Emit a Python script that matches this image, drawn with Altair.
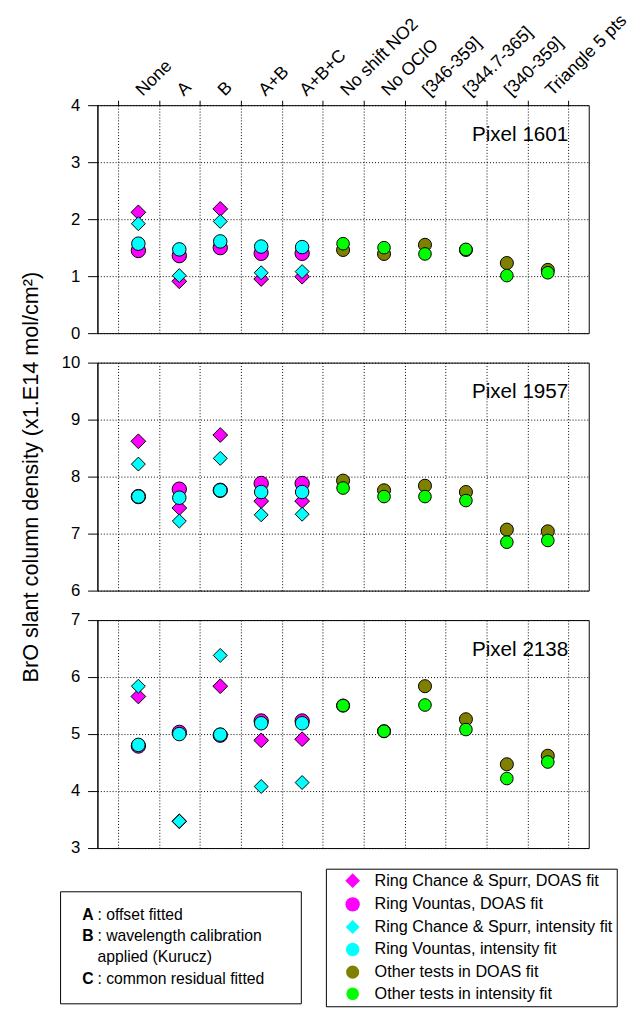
import altair as alt
import pandas as pd

# ---------------- data ----------------
categories = ["None", "A", "B", "A+B", "A+B+C", "No shift NO2", "No OClO",
              "[346-359]", "[344.7-365]", "[340-359]", "Triangle 5 pts"]
ring_positions = [1, 2, 3, 4, 5]
test_positions = [6, 7, 8, 9, 10, 11]
grid_positions = [0.5, 1.5, 2.5, 3.5, 4.5, 5.5, 6.5, 7.5, 8.5, 9.5, 10.5, 11.5]

pixels = ["Pixel 1601", "Pixel 1957", "Pixel 2138"]
y_domains = [[0, 4], [6, 10], [3, 7]]
y_ticks = [[0, 1, 2, 3, 4], [6, 7, 8, 9, 10], [3, 4, 5, 6, 7]]
y_title = "BrO slant column density (x1.E14 mol/cm\u00b2)"

series_names = ["Ring Chance & Spurr, DOAS fit",
                "Ring Vountas, DOAS fit",
                "Ring Chance & Spurr, intensity fit",
                "Ring Vountas, intensity fit",
                "Other tests in DOAS fit",
                "Other tests in intensity fit"]
series_fill = ["#ff00ff", "#ff00ff", "#00ffff", "#00ffff", "#808000", "#00ff00"]
series_shape = ["diamond", "circle", "diamond", "circle", "circle", "circle"]
series_size = [225, 165, 225, 165, 165, 165]

# Ring tests (categories None .. A+B+C)
chance_doas = {"Pixel 1601": [2.12, 0.91, 2.18, 0.95, 0.99],
               "Pixel 1957": [8.62, 7.45, 8.73, 7.57, 7.57],
               "Pixel 2138": [5.66, 3.47, 5.84, 4.89, 4.91]}
vountas_doas = {"Pixel 1601": [1.45, 1.36, 1.50, 1.40, 1.40],
                "Pixel 1957": [7.65, 7.78, 7.76, 7.88, 7.88],
                "Pixel 2138": [4.79, 5.03, 4.98, 5.23, 5.23]}
chance_int = {"Pixel 1601": [1.92, 1.01, 1.96, 1.06, 1.08],
              "Pixel 1957": [8.22, 7.22, 8.32, 7.33, 7.34],
              "Pixel 2138": [5.84, 3.47, 6.38, 4.08, 4.15]}
vountas_int = {"Pixel 1601": [1.57, 1.47, 1.61, 1.52, 1.51],
               "Pixel 1957": [7.65, 7.63, 7.76, 7.73, 7.73],
               "Pixel 2138": [4.81, 5.00, 4.99, 5.19, 5.19]}
# Other tests (categories No shift NO2 .. Triangle 5 pts)
other_doas = {"Pixel 1601": [1.46, 1.39, 1.55, 1.46, 1.23, 1.11],
              "Pixel 1957": [7.93, 7.76, 7.84, 7.73, 7.07, 7.04],
              "Pixel 2138": [5.50, 5.05, 5.84, 5.26, 4.47, 4.62]}
other_int = {"Pixel 1601": [1.57, 1.50, 1.39, 1.47, 1.01, 1.06],
             "Pixel 1957": [7.80, 7.65, 7.65, 7.58, 6.85, 6.88],
             "Pixel 2138": [5.50, 5.05, 5.51, 5.08, 4.22, 4.51]}

note_letters = ["A", "B", "\u00a0", "C"]
note_texts = [": offset fitted", ": wavelength calibration",
              "\u00a0\u00a0\u00a0applied (Kurucz)", ": common residual fitted"]

# ---------------- table ----------------
series_values = [chance_doas, vountas_doas, chance_int, vountas_int, other_doas, other_int]
rows = []
for k, (name, src) in enumerate(zip(series_names, series_values)):
    positions = ring_positions if k < 4 else test_positions
    for p in pixels:
        for xpos, v in zip(positions, src[p]):
            rows.append({"pixel": p, "series": name, "order": k, "xpos": xpos, "value": v})
df = pd.DataFrame(rows)
notes_df = pd.DataFrame({"letter": note_letters, "note": note_texts})

FONT = "Liberation Sans"
cat_positions = ring_positions + test_positions
label_positions = sorted(grid_positions + cat_positions)
label_expr = ""
for pos, name in zip(cat_positions, categories):
    label_expr += "datum.value == %s ? '%s' : " % (pos, name)
label_expr += "''"
half_test = "datum.value % 1 == 0"


def x_axis(top):
    if top:
        return alt.Axis(
            orient="top", values=label_positions, title=None, domain=False,
            grid=True, gridColor="black", gridDash=[1, 2], gridWidth=1,
            gridOpacity={"condition": {"test": half_test, "value": 0}, "value": 1},
            ticks=True, tickSize=5, tickColor="black",
            tickOpacity={"condition": {"test": half_test, "value": 0}, "value": 1},
            labels=True, labelExpr=label_expr,
            labelAngle=315, labelAlign="left", labelBaseline="alphabetic",
            labelPadding=4, labelOffset=4, labelFontSize=18, labelFont=FONT,
            labelColor="black", labelOverlap=False, labelFlush=False, labelLimit=300,
        )
    return alt.Axis(
        orient="top", values=grid_positions, title=None, domain=False,
        grid=True, gridColor="black", gridDash=[1, 2], gridWidth=1, gridOpacity=1,
        ticks=False, labels=False,
    )


def y_axis(i):
    kw = dict(values=y_ticks[i], format="d", grid=True, gridColor="black", gridDash=[1, 2],
              gridOpacity=1, tickSize=10, tickColor="black", domainColor="black",
              labelPadding=8, labelFontSize=17, labelFont=FONT, labelColor="black",
              minExtent=40, maxExtent=40)
    if i == 1:
        kw.update(title=y_title, titleFontSize=22, titleFont=FONT,
                  titleFontWeight="normal", titleColor="black", titlePadding=16)
    else:
        kw.update(title=None)
    return alt.Axis(**kw)


def panel(i):
    pix = pixels[i]
    lo, hi = y_domains[i]
    last = i == 2
    if last:
        leg = alt.Legend(orient="none", legendX=232.5, legendY=253, title=None,
                         strokeColor="black", fillColor="white", padding=4,
                         symbolOffset=15, labelOffset=14, rowPadding=4,
                         labelFontSize=16.5, labelFont=FONT, labelColor="black",
                         labelLimit=400, symbolStrokeColor="black", symbolStrokeWidth=1)
    else:
        leg = None
    xscale = alt.Scale(domain=[0, 12], nice=False, zero=False)
    yscale = alt.Scale(domain=[lo, hi], nice=False, zero=False)
    xax = x_axis(i == 0)
    yax = y_axis(i)
    pts = alt.Chart(df[df["pixel"] == pix]).mark_point(
        filled=True, stroke="black", strokeWidth=1, opacity=1
    ).encode(
        x=alt.X("xpos:Q", scale=xscale, axis=xax),
        y=alt.Y("value:Q", scale=yscale, axis=yax),
        fill=alt.Fill("series:N", scale=alt.Scale(domain=series_names, range=series_fill), legend=leg),
        shape=alt.Shape("series:N", scale=alt.Scale(domain=series_names, range=series_shape), legend=leg),
        size=alt.Size("series:N", scale=alt.Scale(domain=series_names, range=series_size), legend=leg),
        order=alt.Order("order:Q"),
    )
    lab_df = pd.DataFrame({"label": [pix], "xpos": [grid_positions[-1]], "value": [hi - 0.52]})
    lab = alt.Chart(lab_df).mark_text(
        align="right", baseline="middle", fontSize=21, font=FONT,
        fontWeight="normal", color="black"
    ).encode(
        x=alt.X("xpos:Q", scale=xscale, axis=xax),
        y=alt.Y("value:Q", scale=yscale, axis=yax),
        text="label:N",
    )
    layers = [pts, lab]
    if last:
        common = dict(orient="none", legendY=276, padding=16,
                      symbolOpacity=0, symbolStrokeWidth=0, symbolSize=4,
                      labelOffset=6, rowPadding=5.7, labelFontSize=16, labelFont=FONT,
                      labelColor="black", labelLimit=400)
        blank = ["white", "white", "white", "white"]
        notes_text = alt.Chart(notes_df).mark_point(opacity=0).encode(
            color=alt.Color(
                "note:N", scale=alt.Scale(domain=note_texts, range=blank),
                legend=alt.Legend(legendX=-38, strokeColor="black", title="\u00a0",
                                  titleOrient="right", titlePadding=21, titleFontSize=4,
                                  **common)),
        )
        notes_letter = alt.Chart(notes_df).mark_point(opacity=0).encode(
            stroke=alt.Stroke(
                "letter:N", scale=alt.Scale(domain=note_letters, range=blank),
                legend=alt.Legend(legendX=-53.5, title=None, labelFontWeight="bold", **common)),
        )
        layers += [notes_text, notes_letter]
    return alt.layer(*layers).properties(width=500, height=232)


chart = alt.vconcat(panel(0), panel(1), panel(2), spacing=30, bounds="flush").resolve_scale(
    fill="independent", shape="independent", size="independent",
    color="independent", stroke="independent"
).properties(
    padding={"left": 11, "top": -7, "right": 0, "bottom": 0}
).configure(font=FONT).configure_view(stroke="black", strokeWidth=1)

chart.save("out.html", embed_options={"renderer": "svg", "actions": False})
